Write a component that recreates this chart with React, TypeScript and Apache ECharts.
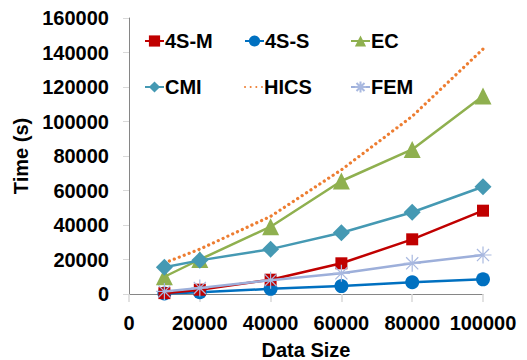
import React, { useEffect, useRef } from "react";
import * as echarts from "echarts";

const xValues = [10000, 20000, 40000, 60000, 80000, 100000];
const seriesNames = ["4S-M", "4S-S", "EC", "CMI", "HICS", "FEM"];
const s4M = [500, 2500, 8300, 17800, 31700, 48300];
const s4S = [300, 1000, 3000, 4600, 6800, 8500];
const ec = [10000, 20000, 39000, 65500, 83800, 114800];
const cmi = [15500, 19500, 26000, 35500, 47400, 62200];
const hics = [18000, 26000, 45000, 72000, 103000, 142000];
const fem = [1500, 3500, 8000, 12000, 17800, 22600];

const STAR = "path://M8 0 L8 16 M0 8 L16 8 M2.3 2.3 L13.7 13.7 M2.3 13.7 L13.7 2.3";
const DOTS =
  "path://M0 1a1 1 0 1 0 2 0a1 1 0 1 0 -2 0z M5.5 1a1 1 0 1 0 2 0a1 1 0 1 0 -2 0z M11 1a1 1 0 1 0 2 0a1 1 0 1 0 -2 0z M16.5 1a1 1 0 1 0 2 0a1 1 0 1 0 -2 0z";

const FONT = "'Liberation Sans', Arial, sans-serif";
const FS = 20;

export default function App() {
  const ref = useRef<HTMLDivElement>(null);
  useEffect(() => {
    if (!ref.current) return;
    const chart = echarts.init(ref.current, undefined, { renderer: "svg" });
    const pair = (arr: number[]) => xValues.map((x, i) => [x, arr[i]]);
    const legendPos = [
      [144, 31],
      [244, 31],
      [350, 31],
      [144, 77],
      [244, 77],
      [350, 77],
    ];
    const fmt = (v: number) => String(v);
    chart.setOption({
      animation: false,
      textStyle: { fontFamily: FONT },
      grid: { left: 129, right: 44, top: 18, bottom: 66, outerBoundsMode: "none", containLabel: false },
      legend: seriesNames.map((n, i) => ({
        data: n === "HICS" ? [{ name: n, icon: DOTS }] : [n],
        left: legendPos[i][0],
        top: legendPos[i][1],
        itemWidth: 19,
        itemHeight: 14,
        itemGap: 2,
        padding: 0,
        textStyle: { fontSize: FS, fontWeight: "bold", color: "#000", fontFamily: FONT, padding: [0, 0, 0, -4] },
      })),
      xAxis: {
        type: "value",
        min: 0,
        max: 100000,
        interval: 20000,
        name: "Data Size",
        nameLocation: "middle",
        nameGap: 46,
        nameTextStyle: { fontSize: FS, fontWeight: "bold", color: "#000", fontFamily: FONT },
        axisLine: { show: true, lineStyle: { color: "#868686", width: 1 } },
        axisTick: { show: true, length: 8, lineStyle: { color: "#D9D9D9", width: 1.5 } },
        axisLabel: { fontSize: FS, fontWeight: "bold", color: "#000", margin: 19, fontFamily: FONT, formatter: fmt },
        splitLine: { show: false },
      },
      yAxis: {
        type: "value",
        min: 0,
        max: 160000,
        interval: 20000,
        name: "Time (s)",
        nameLocation: "middle",
        nameGap: 95,
        nameTextStyle: { fontSize: FS, fontWeight: "bold", color: "#000", fontFamily: FONT },
        axisLine: { show: true, lineStyle: { color: "#868686", width: 1 } },
        axisTick: { show: true, length: 6, lineStyle: { color: "#D9D9D9", width: 1 } },
        axisLabel: { fontSize: FS, fontWeight: "bold", color: "#000", margin: 20, fontFamily: FONT, formatter: fmt },
        splitLine: { show: false },
      },
      series: [
        {
          name: "4S-M",
          type: "line",
          data: pair(s4M),
          symbol: "rect",
          symbolSize: 12,
          itemStyle: { color: "#C00000" },
          lineStyle: { color: "#C00000", width: 2.5 },
          z: 4,
        },
        {
          name: "4S-S",
          type: "line",
          data: pair(s4S),
          symbol: "circle",
          symbolSize: 14,
          itemStyle: { color: "#0070C0" },
          lineStyle: { color: "#0070C0", width: 2.5 },
          z: 3,
        },
        {
          name: "EC",
          type: "line",
          data: pair(ec),
          symbol: "triangle",
          symbolSize: 17,
          itemStyle: { color: "#8FB04F" },
          lineStyle: { color: "#8FB04F", width: 2.5 },
          z: 3,
        },
        {
          name: "CMI",
          type: "line",
          data: pair(cmi),
          symbol: "diamond",
          symbolSize: 17,
          itemStyle: { color: "#4599B3" },
          lineStyle: { color: "#4599B3", width: 2.5 },
          z: 5,
        },
        {
          name: "HICS",
          type: "line",
          data: pair(hics),
          symbol: "none",
          itemStyle: { color: "#ED7D31" },
          lineStyle: { color: "#ED7D31", width: 3.2, type: [0.1, 5.2], cap: "round" },
          z: 2,
        },
        {
          name: "FEM",
          type: "line",
          data: pair(fem),
          symbol: STAR,
          symbolSize: 17,
          itemStyle: { color: "#A9B9E0", borderColor: "#A9B9E0", borderWidth: 1.2 },
          lineStyle: { color: "#9DAFDA", width: 2.5 },
          z: 6,
        },
      ],
    });
    return () => chart.dispose();
  }, []);
  return <div ref={ref} style={{ width: 527, height: 360, position: "absolute", left: 0, top: 0 }} />;
}
